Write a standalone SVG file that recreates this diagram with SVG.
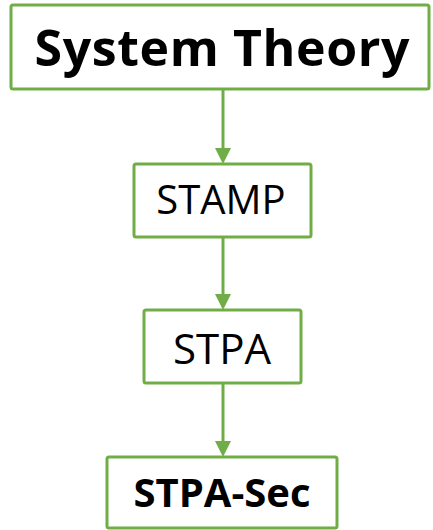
<svg xmlns="http://www.w3.org/2000/svg" width="433" height="530" viewBox="0 0 433 530">
<defs>
<style>
.box{fill:#fff;stroke:#70AD47;stroke-width:3}
.t{font-family:"Open Sans","Noto Sans",sans-serif;fill:#000;text-anchor:middle}
.b{font-weight:bold}
.line{stroke:#70AD47;stroke-width:3;fill:none}
.head{fill:#70AD47}
</style>
</defs>
<rect width="433" height="530" fill="#fff"/>
<g id="connectors">
<line class="line" x1="223" y1="89" x2="223" y2="150"/>
<polygon class="head" points="215,148 231,148 223,164"/>
<line class="line" x1="223" y1="237" x2="223" y2="296"/>
<polygon class="head" points="215,294 231,294 223,310"/>
<line class="line" x1="223" y1="383" x2="223" y2="443"/>
<polygon class="head" points="215,441 231,441 223,457"/>
</g>
<g id="system-theory">
<rect class="box" x="11" y="5" width="418" height="84" rx="2"/>
<text class="t b" x="222" y="66" font-size="50" textLength="375" lengthAdjust="spacing">System Theory</text>
</g>
<g id="stamp">
<rect class="box" x="134" y="164" width="177" height="73" rx="2"/>
<text class="t" x="221" y="214" font-size="40">STAMP</text>
</g>
<g id="stpa">
<rect class="box" x="144" y="310" width="157" height="73" rx="2"/>
<text class="t" x="222" y="364" font-size="42">STPA</text>
</g>
<g id="stpa-sec">
<rect class="box" x="107" y="457" width="230" height="71" rx="2"/>
<text class="t b" x="222" y="507" font-size="40">STPA-Sec</text>
</g>
</svg>
